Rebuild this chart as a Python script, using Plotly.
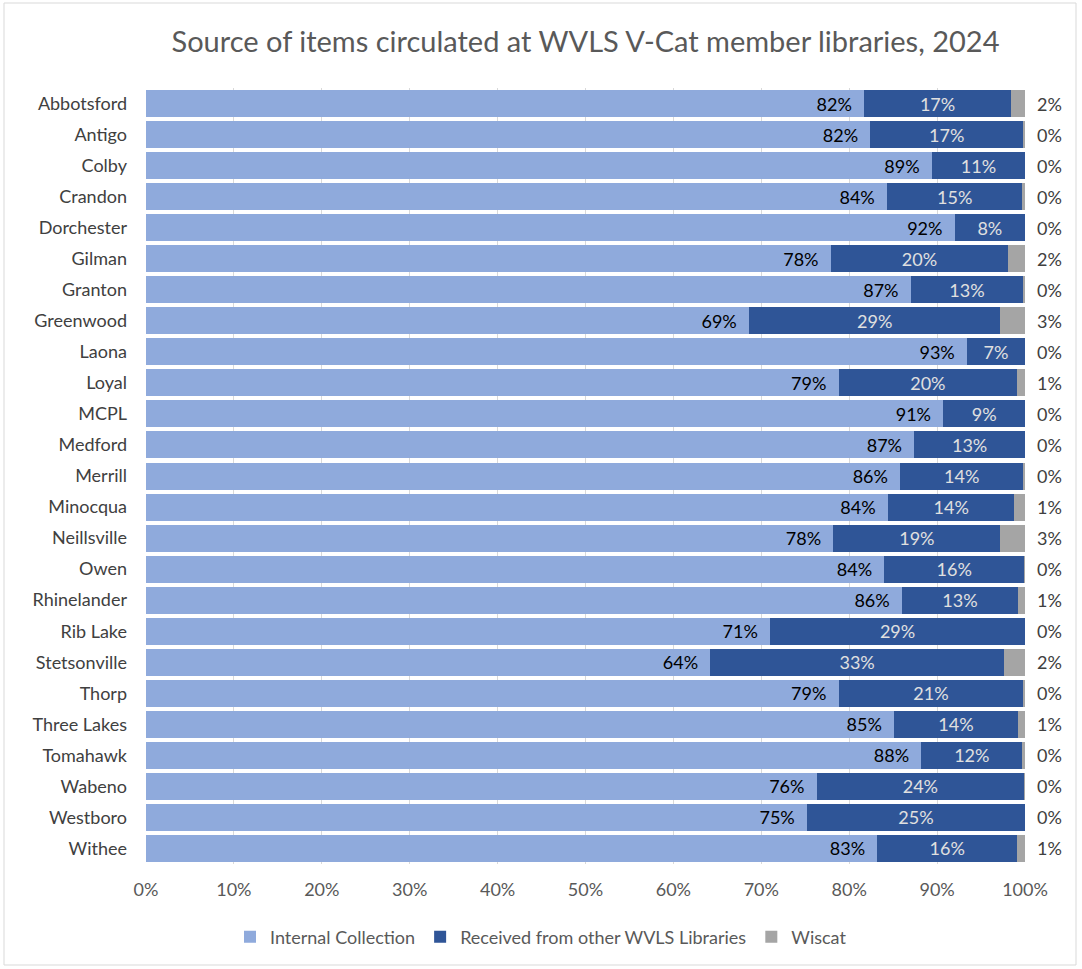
import plotly.graph_objects as go

libraries = ["Abbotsford", "Antigo", "Colby", "Crandon", "Dorchester", "Gilman", "Granton",
             "Greenwood", "Laona", "Loyal", "MCPL", "Medford", "Merrill", "Minocqua",
             "Neillsville", "Owen", "Rhinelander", "Rib Lake", "Stetsonville", "Thorp",
             "Three Lakes", "Tomahawk", "Wabeno", "Westboro", "Withee"]

internal = [81.7, 82.4, 89.4, 84.3, 92.0, 77.9, 87.0, 68.6, 93.4, 78.8, 90.7, 87.4, 85.8, 84.4,
            78.2, 84.0, 86.0, 71.0, 64.2, 78.8, 85.1, 88.2, 76.3, 75.2, 83.2]
received = [16.7, 17.4, 10.6, 15.4, 8.0, 20.2, 12.8, 28.6, 6.6, 20.3, 9.3, 12.6, 14.0, 14.4,
            19.0, 15.9, 13.2, 29.0, 33.4, 21.0, 14.1, 11.5, 23.6, 24.8, 15.9]
wiscat = [1.6, 0.2, 0.0, 0.3, 0.0, 1.9, 0.2, 2.8, 0.0, 0.9, 0.0, 0.0, 0.2, 1.2,
          2.8, 0.1, 0.8, 0.0, 2.4, 0.2, 0.8, 0.3, 0.1, 0.0, 0.9]

FONT = "Lato"

fig = go.Figure()
fig.add_trace(go.Bar(
    y=libraries, x=internal, orientation="h", name="Internal Collection",
    marker=dict(color="#8faadc", line=dict(width=0)),
    texttemplate="%{x:.0f}%\u00a0\u00a0", textposition="inside", insidetextanchor="end",
    textfont=dict(color="#000000", size=18, family=FONT), constraintext="none",
))
fig.add_trace(go.Bar(
    y=libraries, x=received, orientation="h", name="Received from other WVLS Libraries",
    marker=dict(color="#2f5597", line=dict(width=0)),
    texttemplate="%{x:.0f}%", textposition="inside", insidetextanchor="middle",
    textfont=dict(color="#e0e0e0", size=18, family=FONT), constraintext="none",
))
fig.add_trace(go.Bar(
    y=libraries, x=wiscat, orientation="h", name="Wiscat",
    marker=dict(color="#a5a5a5", line=dict(width=0)),
    hoverinfo="x+y",
))

# outside labels for Wiscat, placed just right of the 100% edge
for lib, w in zip(libraries, wiscat):
    fig.add_annotation(x=100, y=lib, xref="x", yref="y", text=f"{w:.0f}%",
                       showarrow=False, xanchor="left", xshift=10,
                       font=dict(size=18, color="#404040", family=FONT))

W, H = 1082, 969
L, R, T, B = 146, 1025, 88, 864
pw, ph = R - L, B - T
fig.add_shape(type="rect", xref="paper", yref="paper",
              x0=(4 - L) / pw, x1=(1076 - L) / pw,
              y0=-(965 - B) / ph, y1=(B - 3) / ph,
              line=dict(color="#d9d9d9", width=1), layer="below")

fig.update_layout(
    width=W, height=H,
    barmode="stack", bargap=0.13,
    margin=dict(l=L, r=W - R, t=T, b=H - B, pad=0),
    paper_bgcolor="white", plot_bgcolor="white",
    font=dict(family=FONT, color="#595959", size=18),
    title=dict(text="Source of items circulated at WVLS V-Cat member libraries, 2024",
               x=0.5, xref="paper", xanchor="center", y=1 - 42 / H, yanchor="middle",
               font=dict(size=29, color="#595959", family=FONT)),
    xaxis=dict(range=[0, 100], tickvals=list(range(0, 101, 10)),
               ticktext=[f"{v}%" for v in range(0, 101, 10)],
               showgrid=True, gridcolor="#d9d9d9", gridwidth=1, zeroline=False,
               showline=False, ticks="", ticklabelstandoff=13,
               tickfont=dict(size=18, color="#595959", family=FONT)),
    yaxis=dict(autorange="reversed", showgrid=False, ticks="", showline=False,
               ticklabelstandoff=18,
               tickfont=dict(size=18, color="#404040", family=FONT)),
    legend=dict(orientation="h", x=0.5, xanchor="center", xref="container",
                y=1 - 937 / H, yref="container", yanchor="middle",
                font=dict(size=18, color="#595959", family=FONT),
                traceorder="normal", itemwidth=30),
    uniformtext=dict(minsize=18, mode="show"),
)

fig.write_html("out.html", config={"displayModeBar": False},
               post_script="document.body.style.margin='0';")
